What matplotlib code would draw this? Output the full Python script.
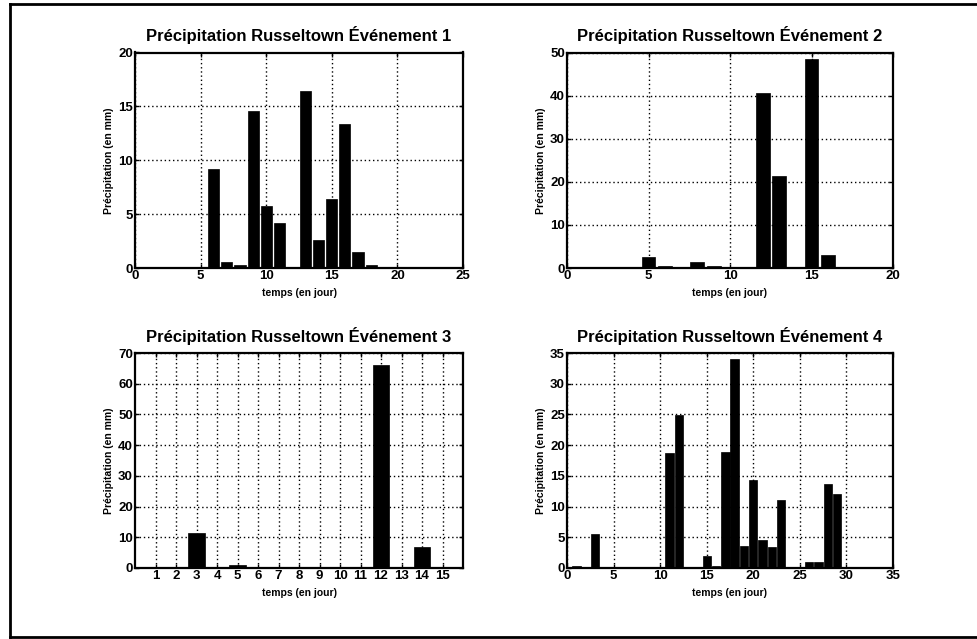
import matplotlib; matplotlib.use("Agg")
import matplotlib.pyplot as plt
from matplotlib.lines import Line2D

plt.rcParams["font.family"] = ["Liberation Sans", "DejaVu Sans"]
plt.rcParams["font.weight"] = "bold"

titles = ["Précipitation Russeltown Événement 1", "Précipitation Russeltown Événement 2",
          "Précipitation Russeltown Événement 3", "Précipitation Russeltown Événement 4"]
xlabel = "temps (en jour)"
ylabel = "Précipitation (en mm)"

days1 = [6, 7, 8, 9, 10, 11, 13, 14, 15, 16, 17, 18]
rain1 = [9.2, 0.6, 0.25, 14.6, 5.8, 4.2, 16.4, 2.6, 6.4, 13.4, 1.5, 0.25]

days2 = [5, 6, 7, 8, 9, 10, 12, 13, 14, 15, 16]
rain2 = [2.5, 0.5, 0.2, 1.5, 0.4, 0.2, 40.7, 21.4, 0.2, 48.5, 3.0]

days3 = list(range(1, 16))
rain3 = [0.1, 0.2, 11.3, 0.3, 1.1, 0.1, 0, 0, 0, 0, 0, 66.2, 0.3, 7.0, 0.3]

days4 = [1, 3, 11, 12, 13, 14, 15, 16, 17, 18, 19, 20, 21, 22, 23, 24, 25, 26, 27, 28, 29]
rain4 = [0.3, 5.5, 18.7, 24.9, 0.1, 0.2, 1.9, 0.3, 18.9, 34.0, 3.6, 14.3, 4.5, 3.4, 11.0,
         0.2, 0.1, 1.0, 1.0, 13.7, 12.0]

W, H = 977, 639
fig = plt.figure(figsize=(W / 100, H / 100), dpi=100)

# pixel boxes (left, top, right, bottom)
boxes = [(135, 52.5, 463, 268), (567, 52.5, 893, 268),
         (135, 353, 463, 568), (567, 353, 893, 568)]
panels = [
    (days1, rain1, 0.85, (0, 25), range(0, 26, 5), (0, 20), range(0, 21, 5)),
    (days2, rain2, 0.85, (0, 20), range(0, 21, 5), (0, 50), range(0, 51, 10)),
    (days3, rain3, 0.8, (0, 16), days3, (0, 70), range(0, 71, 10)),
    (days4, rain4, 0.9, (0, 35), range(0, 36, 5), (0, 35), range(0, 36, 5)),
]

for (l, t, r, b), (x, y, w, xl, xt, yl, yt), title in zip(boxes, panels, titles):
    ax = fig.add_axes([l / W, 1 - b / H, (r - l) / W, (b - t) / H])
    ax.bar(x, y, width=w, color="black", edgecolor="black", linewidth=0.5, zorder=3)
    ax.set_xlim(*xl); ax.set_ylim(*yl)
    ax.set_xticks(list(xt)); ax.set_yticks(list(yt))
    ax.grid(True, color="black", linestyle=(0, (1, 2)), linewidth=1.0, zorder=1)
    ax.tick_params(direction="in", length=3, width=1, top=True, right=True,
                   labelsize=9.5, pad=1.5)
    for lab in ax.get_xticklabels() + ax.get_yticklabels():
        lab.set_fontweight("bold")
    for s in ax.spines.values():
        s.set_linewidth(1.6)
    ax.set_title(title, fontsize=12, fontweight="bold", pad=8)
    ax.set_xlabel(xlabel, fontsize=7.5, fontweight="bold", labelpad=4)
    ax.set_ylabel(ylabel, fontsize=7.5, fontweight="bold", labelpad=3)

# outer frame of the scanned page
for xs, ys in [((10, 10), (4, 637)), ((10, 977), (4, 4)), ((10, 977), (637, 637))]:
    fig.add_artist(Line2D([v / W for v in xs], [1 - v / H for v in ys],
                          color="black", linewidth=2))

fig.savefig("out.png", dpi=100)
